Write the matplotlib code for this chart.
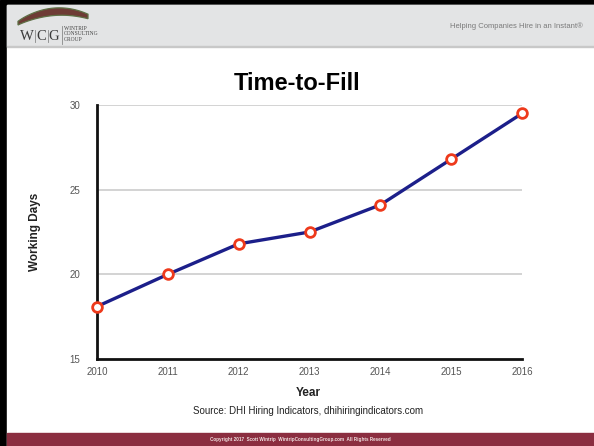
import matplotlib.pyplot as plt
from matplotlib.patches import Rectangle, Polygon
from matplotlib.lines import Line2D
import numpy as np

years = [2010, 2011, 2012, 2013, 2014, 2015, 2016]
days = [18.1, 20.0, 21.8, 22.5, 24.1, 26.8, 29.5]
y_ticks = [15, 20, 25, 30]

W, H = 594, 446


def fx(px):
    return px / W


def fy(py):
    return 1 - py / H


fig = plt.figure(figsize=(5.94, 4.46), dpi=100)
fig.patch.set_facecolor('white')

# slide frame: black border, gray header, maroon footer
fig.add_artist(Rectangle((0, 0), 1, 1, transform=fig.transFigure, color='black', zorder=-5))
fig.add_artist(Rectangle((fx(7), 0), 1, fy(5), transform=fig.transFigure, color='white', zorder=-4))
fig.add_artist(Rectangle((fx(7), fy(46)), 1, fy(5) - fy(46), transform=fig.transFigure,
                         color='#e3e4e5', zorder=-3))
fig.add_artist(Rectangle((fx(7), fy(47)), 1, 1.2 / H, transform=fig.transFigure,
                         color='#c8c8c8', zorder=-3))
fig.add_artist(Rectangle((fx(7), 0), 1, fy(433), transform=fig.transFigure,
                         color='#8b2e40', zorder=-3))

# logo (rough): swoosh + letters
t = np.linspace(0, 1, 50)
top = [(fx(18 + 70 * s), fy(26 - 17 * np.sin(np.pi * (0.05 + 0.8 * s)) ** 0.7 - 2 * s)) for s in t]
bot = [(fx(18 + 70 * s), fy(26 - 9 * np.sin(np.pi * (0.02 + 0.85 * s)) ** 0.8 - 3 * s)) for s in t[::-1]]
fig.add_artist(Polygon(top + bot, closed=True, transform=fig.transFigure,
                       facecolor='#6e3b35', edgecolor='#5e7045', lw=0.9, zorder=-2))
for letter, px in [('W', 27), ('C', 41), ('G', 54)]:
    fig.text(fx(px), fy(36), letter, fontsize=10.5, family='Liberation Serif', color='#3a3a3a',
             va='center', ha='center')
for px in [34.5, 47.5]:
    fig.add_artist(Line2D([fx(px), fx(px)], [fy(42), fy(30)], transform=fig.transFigure,
                          color='#888888', lw=0.6))
fig.add_artist(Line2D([fx(61.5), fx(61.5)], [fy(44), fy(26)], transform=fig.transFigure,
                      color='#888888', lw=0.6))
for i, word in enumerate(['WINTRIP', 'CONSULTING', 'GROUP']):
    fig.text(fx(64), fy(28.5 + i * 5.3), word, fontsize=4.0, family='Liberation Serif',
             color='#444444', va='center', ha='left')

fig.text(fx(583), fy(26), 'Helping Companies Hire in an Instant\u00ae', fontsize=5.5,
         color='#7a7a7a', ha='right', va='center', family='Liberation Sans')

fig.text(0.5, fy(83), 'Time-to-Fill', fontsize=17, fontweight='bold', ha='center',
         va='center', family='Liberation Sans')

ax = fig.add_axes([fx(97), fy(359), fx(522) - fx(97), fy(105) - fy(359)])
ax.plot(years, days, color='#1c1f8a', lw=2.4, zorder=3, solid_capstyle='round')
ax.plot(years, days, 'o', ms=7, mfc='white', mec='#ee3a1c', mew=2.0, zorder=4, clip_on=False)

ax.set_xlim(2010, 2016)
ax.set_ylim(15, 30)
ax.set_xticks(years)
ax.set_yticks(y_ticks)
for v in y_ticks[1:]:
    ax.axhline(v, color='#c8c8c8', lw=1.1, zorder=1)
ax.tick_params(length=0, labelsize=7, colors='#555555')
ax.tick_params(axis='x', pad=6)
ax.tick_params(axis='y', pad=12)
for lab in ax.get_xticklabels() + ax.get_yticklabels():
    lab.set_family('Liberation Sans')
for s in ['top', 'right']:
    ax.spines[s].set_visible(False)
for s in ['left', 'bottom']:
    ax.spines[s].set_linewidth(2)
    ax.spines[s].set_color('#111111')

fig.text(fx(35), fy(232), 'Working Days', rotation=90, fontsize=8.5, fontweight='bold',
         ha='center', va='center', family='Liberation Sans', color='#222222')
fig.text(fx(308), fy(393), 'Year', fontsize=8.5, fontweight='bold', ha='center', va='center',
         family='Liberation Sans', color='#222222')
fig.text(fx(308), fy(411), 'Source: DHI Hiring Indicators, dhihiringindicators.com',
         fontsize=7, ha='center', va='center', family='Liberation Sans', color='#222222')
fig.text(fx(300), fy(439), 'Copyright 2017  Scott Wintrip  WintripConsultingGroup.com  All Rights Reserved',
         fontsize=3.3, fontweight='bold', ha='center', va='center', color='#f0e0e0',
         family='Liberation Sans')

fig.savefig('out.png', dpi=100)
